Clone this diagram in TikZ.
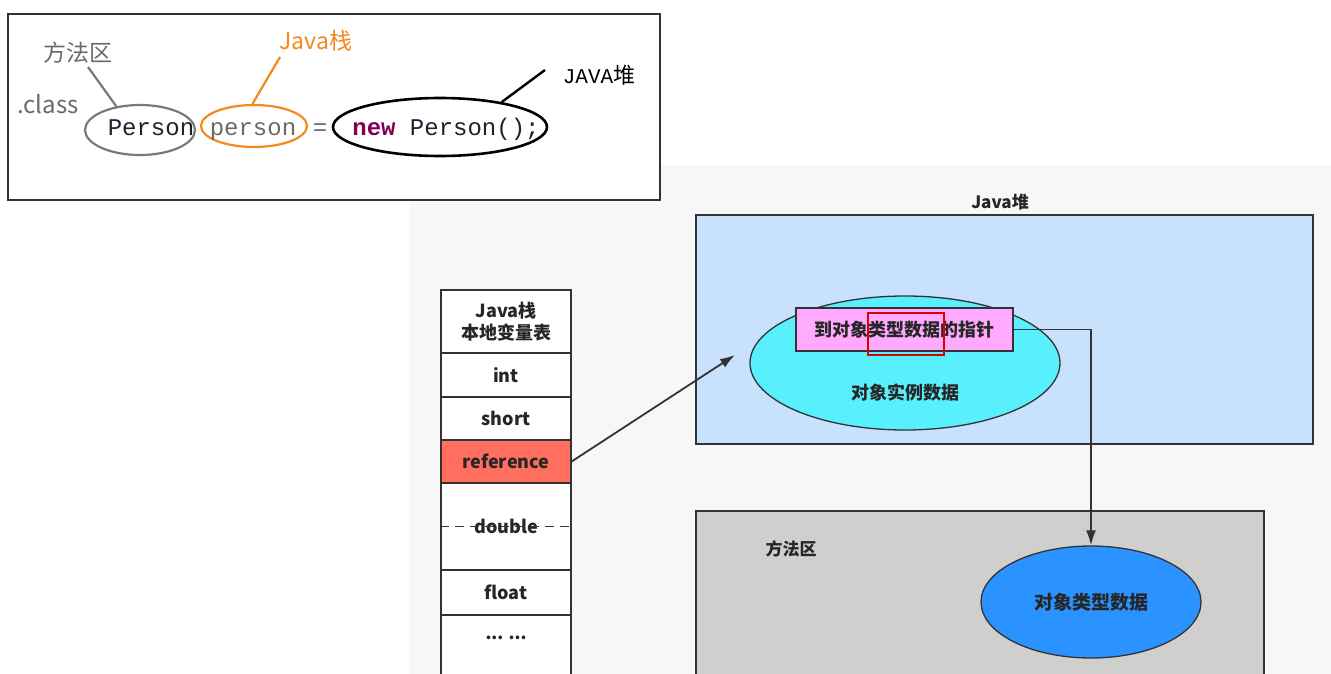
\documentclass[tikz,border=0pt]{standalone}
\usepackage{fontspec}
\setmainfont{Noto Sans CJK SC}
\newfontfamily\cjk{Noto Sans CJK SC}
\newfontfamily\codefont{Liberation Mono}
\usetikzlibrary{shapes.geometric,arrows.meta}
\definecolor{linec}{HTML}{333333}
\definecolor{bgc}{HTML}{F6F7F6}
\definecolor{heapc}{HTML}{C8E2FD}
\definecolor{instc}{HTML}{58F0FC}
\definecolor{ptrc}{HTML}{FFAAFF}
\definecolor{refc}{HTML}{FF6E5E}
\definecolor{methc}{HTML}{CFD0CE}
\definecolor{clsc}{HTML}{2A93FF}
\definecolor{grayt}{HTML}{6A6A6A}
\definecolor{orangec}{HTML}{F5891F}
\definecolor{kwc}{HTML}{7F0055}
\definecolor{codec}{HTML}{1E2230}
\begin{document}
\begin{tikzpicture}[x=1pt,y=-1pt,
  cell/.style={draw=linec, line width=1.3pt, fill=white, minimum width=130pt, inner sep=0pt, font=\bfseries\fontsize{18}{22}\selectfont, text=black!85, align=center},
  region/.style={draw=linec, line width=1.5pt, inner sep=0pt},
  bubble/.style={ellipse, draw=linec, line width=1.3pt, inner sep=0pt},
  arr/.style={draw=linec, line width=1.8pt, -{Latex[length=15pt,width=10pt]}},
  lead/.style={line width=2.2pt},
  codet/.style={font=\codefont\fontsize{24}{28}\selectfont, inner sep=0pt, anchor=base},
  lbl/.style={font=\fontsize{17}{20}\selectfont\bfseries, text=black!85, inner sep=0pt}
]
\useasboundingbox (0,0) rectangle (1331,674);
\clip (0,0) rectangle (1331,674);
\fill[white] (0,0) rectangle (1331,674);
\fill[bgc] (410,165) rectangle (1331,674);

% ---------- top code box ----------
\node[draw=linec, line width=1.2pt, fill=white, minimum width=652pt, minimum height=186pt, inner sep=0pt] (codebox) at (334,107) {};

\node[ellipse, draw=grayt!90, line width=2.2pt, minimum width=110pt, minimum height=50pt, inner sep=0pt] (p1) at (140,130) {};
\node[ellipse, draw=orangec, line width=2.2pt, minimum width=106pt, minimum height=42pt, inner sep=0pt] (p2) at (254,126) {};
\node[ellipse, draw=black, line width=2.6pt, minimum width=214pt, minimum height=58pt, inner sep=0pt] (p3) at (440,127) {};

\node[codet, text=codec] (t1) at (151,136) {Person};
\node[codet, text=grayt] (t2) at (253,136) {person};
\node[codet, text=grayt] (t3) at (320,136) {=};
\node[codet, text=codec] (t4) at (446,136) {\textcolor{kwc}{\bfseries new} Person();};

\node[text=grayt, font=\fontsize{23}{26}\selectfont, inner sep=0pt] (l1) at (78,53) {方法区};
\node[text=grayt, font=\fontsize{24}{26}\selectfont, inner sep=0pt] (l2) at (48,104) {.class};
\node[text=orangec, font=\fontsize{23}{26}\selectfont, inner sep=0pt] (l3) at (316,41) {Java栈};
\node[text=black, inner sep=0pt] (l4) at (599,75) {{\codefont\fontsize{21}{24}\selectfont JAVA}{\fontsize{22}{24}\selectfont 堆}};

\coordinate (g1) at (88,67);
\coordinate (o1) at (280,57);
\coordinate (b1) at (545,70);
\draw[lead, grayt!90] (g1) -- (p1.135);
\draw[lead, orangec] (o1) -- (p2.94);
\draw[lead, black, line width=2.4pt] (b1) -- (p3.22);

% ---------- stack table ----------
\node[cell, minimum height=63pt] (hdr) at (506,321.5) {Java栈\\本地变量表};
\node[cell, minimum height=44pt] (int) at (506,375) {int};
\node[cell, minimum height=43pt] (short) at (506,418.5) {short};
\node[cell, minimum height=43pt, fill=refc] (ref) at (506,461.5) {reference};
\node[cell, minimum height=87pt] (dbl) at (506,526.5) {double};
\node[cell, minimum height=45pt] (flt) at (506,592.5) {float};
\node[cell, minimum height=90pt] (more) at (506,660) {};
\node[font=\bfseries\fontsize{17}{20}\selectfont, text=black!85, inner sep=0pt] (dots) at (506,638) {... ...};
\draw[linec, line width=1.8pt, dash pattern=on 9pt off 6pt] (dbl.west) -- (dbl.east);

% ---------- heap ----------
\node[region, fill=heapc, minimum width=617pt, minimum height=229pt] (heap) at (1004.5,329.5) {};
\node[lbl] (heaplbl) at (1000,202) {Java堆};
\node[bubble, fill=instc, minimum width=310pt, minimum height=134pt] (inst) at (905,363) {};
\node[lbl, font=\fontsize{18}{20}\selectfont\bfseries] (instlbl) at (905,393) {对象实例数据};
\node[region, line width=1.6pt, fill=ptrc, minimum width=217pt, minimum height=43pt, font=\fontsize{18}{20}\selectfont\bfseries, text=black!85] (ptr) at (904.5,329.5) {到对象类型数据的指针};
\node[draw=red!85!black, line width=2pt, minimum width=76pt, minimum height=42pt, inner sep=0pt] (hl) at (906,334) {};

% ---------- method area ----------
\node[region, fill=methc, minimum width=568pt, minimum height=189pt] (meth) at (980,605.5) {};
\node[lbl] (methlbl) at (791,549) {方法区};
\node[bubble, fill=clsc, minimum width=220pt, minimum height=112pt, font=\fontsize{19}{22}\selectfont\bfseries, text=black!85] (cls) at (1091,602) {对象类型数据};

% ---------- connectors ----------
\coordinate (tip) at (735,355);
\draw[arr] (ref.east) -- (tip);
\draw[arr] (ptr.east) -| (cls.north);
\end{tikzpicture}
\end{document}
